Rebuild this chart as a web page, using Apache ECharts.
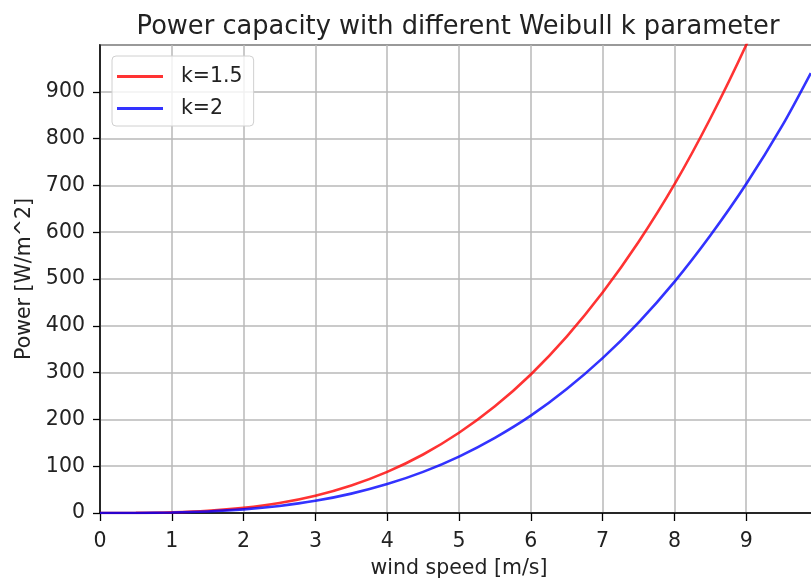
<!DOCTYPE html>
<html>
<head>
<meta charset="utf-8">
<script src="https://cdn.jsdelivr.net/npm/echarts@6/dist/echarts.min.js"></script>
<style>html,body{margin:0;padding:0;background:#fff;overflow:hidden;}#chart{width:811px;height:580px;}</style>
</head>
<body>
<div id="chart"></div>
<script>
// wind speed [m/s]
const windSpeed = [0, 0.5, 1, 1.5, 2, 2.5, 3, 3.5, 4, 4.5, 5, 5.5, 6, 6.5, 7, 7.5, 8, 8.5, 9, 9.5, 9.9];
// Power [W/m^2], k=1.5
const powerK15 = [0, 0.17, 1.4, 4.6, 11, 21.4, 37, 58.8, 87.8, 125, 171.5, 228, 296, 377, 471, 579, 702, 843, 1000, 1176, 1331];
// Power [W/m^2], k=2
const powerK2 = [0, 0.12, 0.97, 3.3, 7.7, 15.1, 26, 41.4, 61.8, 87.9, 120.6, 160.6, 208, 265, 331, 407, 494, 593, 703, 827, 940];
const seriesNames = ['k=1.5', 'k=2'];
const xTicks = [0, 1, 2, 3, 4, 5, 6, 7, 8, 9];
const yTicks = [0, 100, 200, 300, 400, 500, 600, 700, 800, 900];

const font = 'DejaVu Sans';
const labelSize = 20.5;
const chart = echarts.init(document.getElementById('chart'), null, {renderer: 'canvas'});
chart.setOption({
  animation: false,
  backgroundColor: '#fff',
  title: {
    text: 'Power capacity with different Weibull k parameter',
    left: 453, top: 9, textAlign: 'center',
    textStyle: {fontFamily: font, fontSize: 25.7, fontWeight: 'normal', color: '#222'}
  },
  grid: {left: 100, width: 718, top: 45, height: 468, containLabel: false, outerBoundsMode: 'none',
    show: true, borderColor: '#000', borderWidth: 1.5, backgroundColor: 'transparent'},
  legend: {
    orient: 'vertical', left: 112, top: 56,
    padding: [10, 11, 7, 5],
    itemGap: 11, itemWidth: 46, itemHeight: 3, icon: 'rect',
    backgroundColor: 'rgba(255,255,255,0.8)', borderColor: '#d0d0d0', borderWidth: 1, borderRadius: 4,
    textStyle: {fontFamily: font, fontSize: labelSize, color: '#222', padding: [0, 0, 0, 13]},
    data: seriesNames
  },
  xAxis: {
    type: 'value', min: 0, max: 10, interval: 1,
    name: 'wind speed [m/s]', nameLocation: 'middle', nameGap: 45,
    nameTextStyle: {fontFamily: font, fontSize: labelSize, color: '#222'},
    axisLine: {lineStyle: {color: '#000', width: 1.5}},
    axisTick: {show: true, length: 8, lineStyle: {color: '#000', width: 1.3}},
    axisLabel: {fontFamily: font, fontSize: labelSize, color: '#222', margin: 18, showMaxLabel: false,
      formatter: v => xTicks.includes(v) ? String(v) : ''},
    splitLine: {show: true, lineStyle: {color: '#b8b8b8', width: 1.5}}
  },
  yAxis: {
    type: 'value', min: 0, max: 1000, interval: 100,
    name: 'Power [W/m^2]', nameLocation: 'middle', nameGap: 65, nameRotate: 90,
    nameTextStyle: {fontFamily: font, fontSize: labelSize, color: '#222'},
    axisLine: {show: true, lineStyle: {color: '#000', width: 1.5}},
    axisTick: {show: true, length: 7, lineStyle: {color: '#000', width: 1.3}},
    axisLabel: {fontFamily: font, fontSize: labelSize, color: '#222', margin: 15, showMaxLabel: false,
      padding: [6, 0, 0, 0],
      formatter: v => yTicks.includes(v) ? String(v) : ''},
    splitLine: {show: true, lineStyle: {color: '#b8b8b8', width: 1.5}}
  },
  series: [
    {name: seriesNames[0], type: 'line', smooth: 0.3, showSymbol: false, clip: true,
     lineStyle: {color: 'rgba(255,0,0,0.8)', width: 2.6}, itemStyle: {color: 'rgba(255,0,0,0.8)'},
     data: windSpeed.map((x, i) => [x, powerK15[i]])},
    {name: seriesNames[1], type: 'line', smooth: 0.3, showSymbol: false, clip: true,
     lineStyle: {color: 'rgba(0,0,255,0.8)', width: 2.6}, itemStyle: {color: 'rgba(0,0,255,0.8)'},
     data: windSpeed.map((x, i) => [x, powerK2[i]])}
  ]
});
</script>
</body>
</html>
